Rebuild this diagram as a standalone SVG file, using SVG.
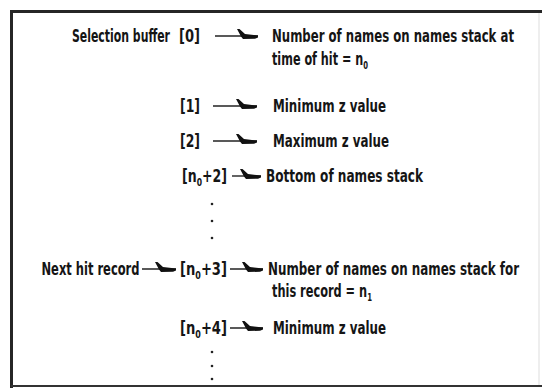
<svg xmlns="http://www.w3.org/2000/svg" width="542" height="388" viewBox="0 0 542 388">
<defs>
<marker id="harpoon" viewBox="-22 -8 24 12" markerWidth="24" markerHeight="12" refX="0" refY="0" markerUnits="userSpaceOnUse" orient="auto">
<path d="M-21,-7 L-18.5,-7 L-13,-2 L0,-0.5 L0,1.5 L-3,2.8 L-15,3 L-17,0.5 Z" fill="#111"/>
</marker>
<style>
.t{font-family:"Liberation Sans Narrow","DejaVu Sans Condensed","Liberation Sans",sans-serif;font-size:18px;font-weight:bold;fill:#151515}
.s{font-size:11px}
.c{stroke:#222;stroke-width:1.4;fill:none;marker-end:url(#harpoon)}
.d{fill:#222}
</style>
</defs>
<rect width="542" height="388" fill="#fff"/>
<g id="frame">
<path d="M11.5,388 L11.5,11.5 L542,11.5" fill="none" stroke="#262626" stroke-width="3"/>
<path d="M11,386 L542,386" stroke="#333" stroke-width="2"/>
<path d="M539,13 L539,385" stroke="#ddd" stroke-width="1"/>
</g>
<g id="connectors">
<path class="c" d="M215,36 H258"/>
<path class="c" d="M213,106 H257"/>
<path class="c" d="M213,141 H257"/>
<path class="c" d="M232,176 H261"/>
<path class="c" d="M142,269 H176"/>
<path class="c" d="M230,269 H263"/>
<path class="c" d="M230,328 H263"/>
</g>
<g id="sel">
<text class="t" x="72" y="42" textLength="98" lengthAdjust="spacingAndGlyphs">Selection buffer</text>
</g>
<g id="idx0"><text class="t" x="179" y="42" textLength="21" lengthAdjust="spacingAndGlyphs">[0]</text></g>
<g id="val0">
<text class="t" x="272" y="42" textLength="242" lengthAdjust="spacingAndGlyphs">Number of names on names stack at</text>
<text class="t" x="272" y="65" textLength="96" lengthAdjust="spacingAndGlyphs">time of hit = n<tspan class="s" dy="4">0</tspan></text>
</g>
<g id="idx1"><text class="t" x="180" y="112" textLength="20" lengthAdjust="spacingAndGlyphs">[1]</text></g>
<g id="val1"><text class="t" x="273" y="112" textLength="113" lengthAdjust="spacingAndGlyphs">Minimum z value</text></g>
<g id="idx2"><text class="t" x="180" y="147" textLength="20" lengthAdjust="spacingAndGlyphs">[2]</text></g>
<g id="val2"><text class="t" x="273" y="147" textLength="116" lengthAdjust="spacingAndGlyphs">Maximum z value</text></g>
<g id="idx3"><text class="t" x="182" y="182" textLength="45" lengthAdjust="spacingAndGlyphs">[n<tspan class="s" dy="4">0</tspan><tspan dy="-4">+2]</tspan></text></g>
<g id="val3"><text class="t" x="266" y="182" textLength="157" lengthAdjust="spacingAndGlyphs">Bottom of names stack</text></g>
<g id="dots1">
<circle class="d" cx="212" cy="204" r="1.3"/>
<circle class="d" cx="212" cy="221" r="1.3"/>
<circle class="d" cx="212" cy="238" r="1.3"/>
</g>
<g id="next"><text class="t" x="41.5" y="275" textLength="98" lengthAdjust="spacingAndGlyphs">Next hit record</text></g>
<g id="idx4"><text class="t" x="180" y="275" textLength="47" lengthAdjust="spacingAndGlyphs">[n<tspan class="s" dy="4">0</tspan><tspan dy="-4">+3]</tspan></text></g>
<g id="val4">
<text class="t" x="268" y="275" textLength="251" lengthAdjust="spacingAndGlyphs">Number of names on names stack for</text>
<text class="t" x="272" y="297" textLength="100" lengthAdjust="spacingAndGlyphs">this record = n<tspan class="s" dy="4">1</tspan></text>
</g>
<g id="idx5"><text class="t" x="180" y="334" textLength="47" lengthAdjust="spacingAndGlyphs">[n<tspan class="s" dy="4">0</tspan><tspan dy="-4">+4]</tspan></text></g>
<g id="val5"><text class="t" x="273" y="334" textLength="113" lengthAdjust="spacingAndGlyphs">Minimum z value</text></g>
<g id="dots2">
<circle class="d" cx="212" cy="352" r="1.3"/>
<circle class="d" cx="212" cy="366" r="1.3"/>
<circle class="d" cx="212" cy="379" r="1.3"/>
</g>
</svg>
